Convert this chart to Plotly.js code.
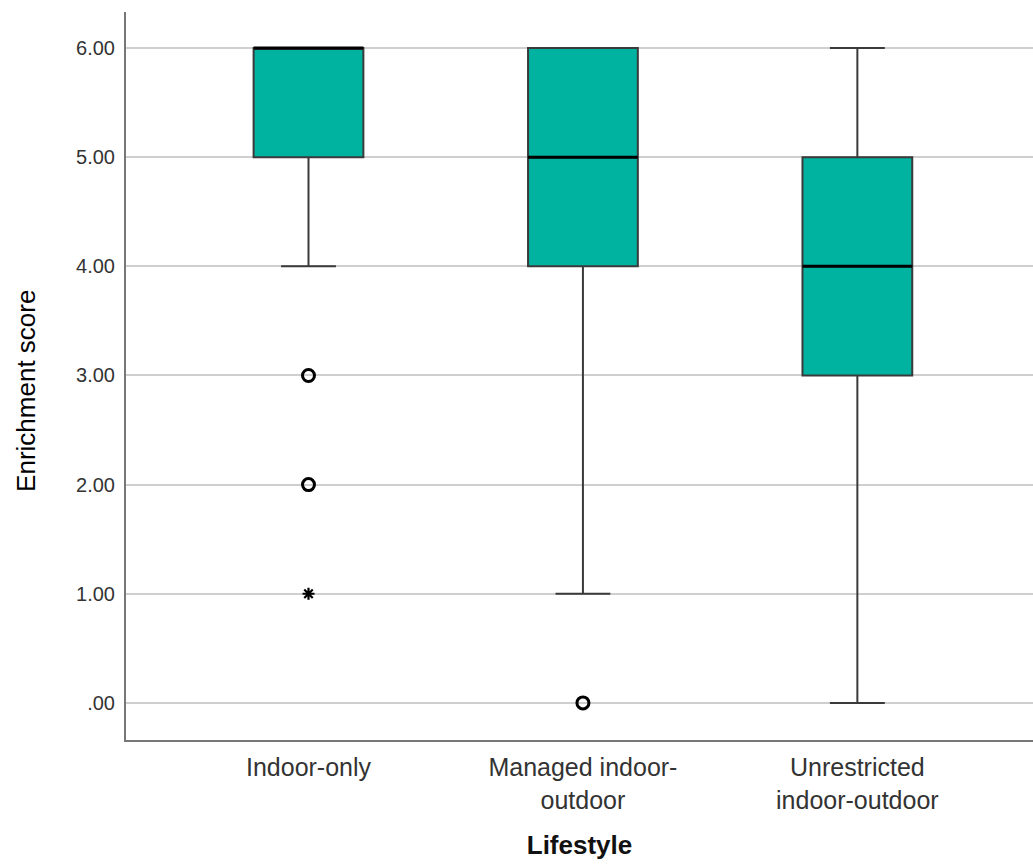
<!DOCTYPE html>
<html><head><meta charset="utf-8">
<script src="https://cdn.plot.ly/plotly-3.0.1.min.js"></script>
<style>html,body{margin:0;padding:0;background:#fff}#chart{width:1033px;height:867px}</style>
</head><body><div id="chart"></div>
<script>
const categories = ["Indoor-only", "Managed indoor-<br>outdoor", "Unrestricted<br>indoor-outdoor"];
const q1 = [5, 4, 3];
const median = [6, 5, 4];
const q3 = [6, 6, 5];
const lowerFence = [4, 1, 0];
const upperFence = [6, 6, 6];
const outlierCat = [0, 0, 1];
const outlierVal = [3, 2, 0];
const extremeCat = [0];
const extremeVal = [1];
const yTickVals = [0, 1, 2, 3, 4, 5, 6];
const yTickText = [".00", "1.00", "2.00", "3.00", "4.00", "5.00", "6.00"];

const pos = categories.map((c, i) => i);
const boxW = 0.4;
const traces = [
  {
    type: 'box', x: pos, q1: q1, median: median, q3: q3,
    lowerfence: lowerFence, upperfence: upperFence,
    width: boxW, whiskerwidth: 0.5,
    fillcolor: '#00b3a1', line: {color: '#3a3a3a', width: 2},
    boxpoints: false, hoverinfo: 'y', showlegend: false
  },
  {
    type: 'scatter', mode: 'markers', x: outlierCat, y: outlierVal,
    marker: {symbol: 'circle-open', size: 12, color: '#000', line: {width: 3, color: '#000'}},
    showlegend: false, hoverinfo: 'y'
  },
  {
    type: 'scatter', mode: 'markers', x: extremeCat, y: extremeVal,
    marker: {symbol: 'asterisk-open', size: 10, color: '#000', line: {width: 2.2, color: '#000'}},
    showlegend: false, hoverinfo: 'y'
  }
];
const shapes = median.map((m, i) => ({
  type: 'line', xref: 'x', yref: 'y',
  x0: pos[i] - boxW / 2, x1: pos[i] + boxW / 2, y0: m, y1: m,
  line: {color: '#000', width: 3}
}));
const layout = {
  width: 1033, height: 867,
  margin: {l: 126, r: 0, t: 12, b: 127},
  paper_bgcolor: '#fff', plot_bgcolor: '#fff',
  font: {family: 'Liberation Sans, Arial, sans-serif', color: '#222'},
  shapes: shapes,
  annotations: [{
    text: 'Enrichment score', textangle: -90, showarrow: false,
    xref: 'paper', yref: 'paper', x: -0.111, y: 0.48, xanchor: 'center', yanchor: 'middle',
    font: {family: 'Liberation Sans, Arial, sans-serif', size: 26, color: '#000'}
  }],
  xaxis: {
    range: [-0.665, 2.64], tickvals: pos, ticktext: categories,
    showgrid: false, zeroline: false, showline: true, linecolor: '#777', linewidth: 2,
    ticks: 'outside', ticklen: 4, tickcolor: 'rgba(0,0,0,0)',
    tickfont: {family: 'Liberation Sans, Arial, sans-serif', size: 25, color: '#333'},
    title: {text: '<b>Lifestyle</b>', font: {family: 'Liberation Sans, Arial, sans-serif', size: 26, color: '#111'}, standoff: 23}
  },
  yaxis: {
    range: [-0.34, 6.33], tickvals: yTickVals, ticktext: yTickText,
    showgrid: true, gridcolor: '#cfcfcf', gridwidth: 2,
    zeroline: false, showline: true, linecolor: '#777', linewidth: 2,
    ticks: 'outside', ticklen: 5, tickcolor: 'rgba(0,0,0,0)',
    tickfont: {family: 'Liberation Sans, Arial, sans-serif', size: 20, color: '#333'}
  }
};
Plotly.newPlot('chart', traces, layout, {displayModeBar: false});
</script></body></html>
